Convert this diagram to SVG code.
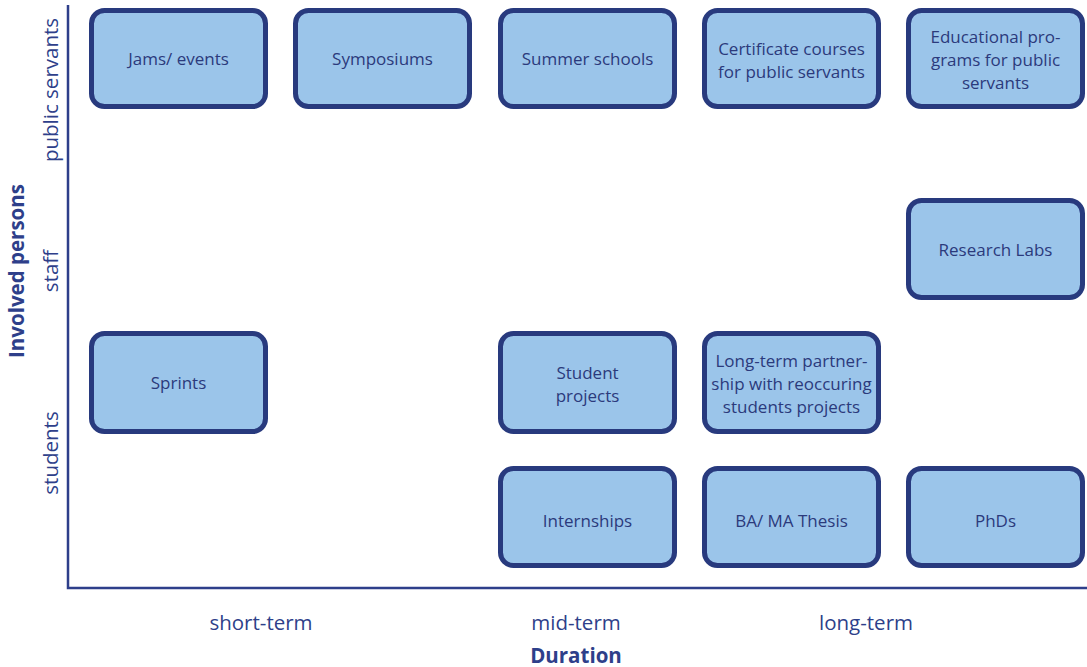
<svg xmlns="http://www.w3.org/2000/svg" width="1087" height="667" viewBox="0 0 1087 667">
  <style>
    .box { fill: #9bc5ea; stroke: #283a7e; stroke-width: 5; }
    .lbl { font-family: "Open Sans", "Noto Sans", sans-serif; font-size: 17px; fill: #2b3a7c; text-anchor: middle; }
    .axis { stroke: #2e3f8a; stroke-width: 2.5; fill: none; }
    .tick { font-family: "Open Sans", "Noto Sans", sans-serif; font-size: 20.5px; fill: #2e3f8a; text-anchor: middle; }
    .title { font-family: "Open Sans", "Noto Sans", sans-serif; font-size: 20.5px; font-weight: bold; fill: #2e3f8a; text-anchor: middle; }
  </style>

  <!-- axes -->
  <g id="axes">
    <path class="axis" d="M68,5 V588 H1087"/>
    <text class="tick" transform="translate(58,90) rotate(-90)">public servants</text>
    <text class="tick" transform="translate(58,271) rotate(-90)">staff</text>
    <text class="tick" transform="translate(58,453) rotate(-90)">students</text>
    <text class="title" transform="translate(24,271) rotate(-90)">Involved persons</text>
    <text class="tick" x="261" y="630">short-term</text>
    <text class="tick" x="576" y="630">mid-term</text>
    <text class="tick" x="866" y="630">long-term</text>
    <text class="title" x="576" y="663">Duration</text>
  </g>

  <!-- public servants row -->
  <g id="jams">
    <rect class="box" x="91.5" y="10.5" width="174" height="96" rx="13"/>
    <text class="lbl" x="178.5" y="64.5">Jams/ events</text>
  </g>
  <g id="symposiums">
    <rect class="box" x="295.5" y="10.5" width="174" height="96" rx="13"/>
    <text class="lbl" x="382.5" y="64.5">Symposiums</text>
  </g>
  <g id="summer-schools">
    <rect class="box" x="500.5" y="10.5" width="174" height="96" rx="13"/>
    <text class="lbl" x="587.5" y="64.5">Summer schools</text>
  </g>
  <g id="certificate-courses">
    <rect class="box" x="704.5" y="10.5" width="174" height="96" rx="13"/>
    <text class="lbl" x="791.5" y="54.5">Certificate courses</text>
    <text class="lbl" x="791.5" y="77.5">for public servants</text>
  </g>
  <g id="educational-programs">
    <rect class="box" x="908.5" y="10.5" width="174" height="96" rx="13"/>
    <text class="lbl" x="995.5" y="42.5">Educational pro-</text>
    <text class="lbl" x="995.5" y="65.5">grams for public</text>
    <text class="lbl" x="995.5" y="88.5">servants</text>
  </g>

  <!-- staff row -->
  <g id="research-labs">
    <rect class="box" x="908.5" y="200.5" width="174" height="97" rx="13"/>
    <text class="lbl" x="995.5" y="256">Research Labs</text>
  </g>

  <!-- students rows -->
  <g id="sprints">
    <rect class="box" x="91.5" y="333.5" width="174" height="98" rx="13"/>
    <text class="lbl" x="178.5" y="389">Sprints</text>
  </g>
  <g id="student-projects">
    <rect class="box" x="500.5" y="333.5" width="174" height="98" rx="13"/>
    <text class="lbl" x="587.5" y="378.5">Student</text>
    <text class="lbl" x="587.5" y="401.5">projects</text>
  </g>
  <g id="long-term-partnership">
    <rect class="box" x="704.5" y="333.5" width="174" height="98" rx="13"/>
    <text class="lbl" x="791.5" y="366.5">Long-term partner-</text>
    <text class="lbl" x="791.5" y="389.5">ship with reoccuring</text>
    <text class="lbl" x="791.5" y="412.5">students projects</text>
  </g>
  <g id="internships">
    <rect class="box" x="500.5" y="468.5" width="174" height="97" rx="13"/>
    <text class="lbl" x="587.5" y="527">Internships</text>
  </g>
  <g id="thesis">
    <rect class="box" x="704.5" y="468.5" width="174" height="97" rx="13"/>
    <text class="lbl" x="791.5" y="527">BA/ MA Thesis</text>
  </g>
  <g id="phds">
    <rect class="box" x="908.5" y="468.5" width="174" height="97" rx="13"/>
    <text class="lbl" x="995.5" y="527">PhDs</text>
  </g>
</svg>
